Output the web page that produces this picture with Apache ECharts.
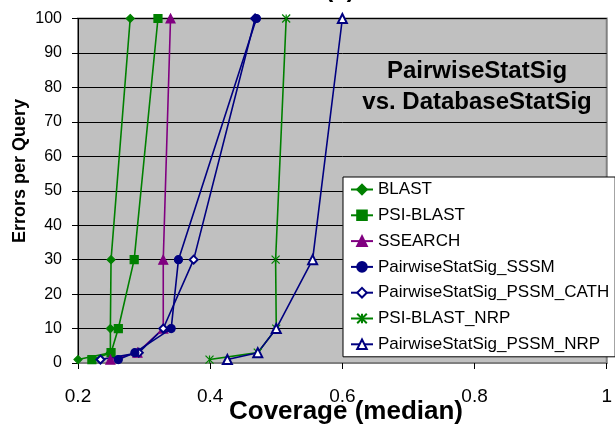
<!DOCTYPE html>
<html>
<head>
<meta charset="utf-8">
<script src="https://cdn.jsdelivr.net/npm/echarts@6/dist/echarts.min.js"></script>
<style>
  html, body { margin: 0; padding: 0; background: #fff; }
  #chart { width: 615px; height: 426px; }
</style>
</head>
<body>
<div id="chart"></div>
<script>
// Error thresholds (errors per query) shared by every method
const errorLevels = [1, 3, 10, 30, 100];

// Median coverage reached by each method at those thresholds
const seriesNames = [
  'BLAST', 'PSI-BLAST', 'SSEARCH', 'PairwiseStatSig_SSSM',
  'PairwiseStatSig_PSSM_CATH', 'PSI-BLAST_NRP', 'PairwiseStatSig_PSSM_NRP'
];
const blast          = [0.200, 0.249, 0.249, 0.250, 0.279];
const psiBlast       = [0.221, 0.250, 0.261, 0.285, 0.321];
const ssearch        = [0.249, 0.290, 0.329, 0.329, 0.340];
const pssSssm        = [0.261, 0.286, 0.341, 0.352, 0.470];
const pssPssmCath    = [0.234, 0.292, 0.329, 0.375, 0.468];
const psiBlastNrp    = [0.399, 0.472, 0.500, 0.499, 0.515];
const pssPssmNrp     = [0.426, 0.472, 0.500, 0.555, 0.600];

const xTicks = [0.2, 0.4, 0.6, 0.8, 1];
const yTicks = [0, 10, 20, 30, 40, 50, 60, 70, 80, 90, 100];

const GREEN = '#008000', PURPLE = '#800080', NAVY = '#000080';
const starPath = 'path://M0,0L10,10M10,0L0,10M5,0L5,10';

function pairs(cov) {
  return cov.map((c, i) => [c, errorLevels[i]]);
}

const styles = [
  { data: blast,       color: GREEN,  symbol: 'diamond',        size: 8, z: 2 },
  { data: psiBlast,    color: GREEN,  symbol: 'rect',           size: 8, z: 2 },
  { data: ssearch,     color: PURPLE, symbol: 'triangle',       size: 9, z: 2 },
  { data: pssSssm,     color: NAVY,   symbol: 'circle',         size: 8, z: 3 },
  { data: pssPssmCath, color: NAVY,   symbol: 'emptyDiamond',   size: 8, z: 2 },
  { data: psiBlastNrp, color: GREEN,  symbol: starPath,         size: 8, z: 2 },
  { data: pssPssmNrp,  color: NAVY,   symbol: 'emptyTriangle',  size: 9, z: 2 }
];

const series = styles.map((s, i) => ({
  name: seriesNames[i],
  type: 'line',
  z: s.z,
  data: pairs(s.data),
  symbol: s.symbol,
  symbolSize: s.size,
  showAllSymbol: true,
  animation: false,
  color: s.color,
  lineStyle: { color: s.color, width: 1.6 },
  itemStyle: s.symbol === starPath
    ? { color: 'rgba(0,0,0,0)', borderColor: s.color, borderWidth: 1.2 }
    : { color: s.color, borderColor: s.color, borderWidth: 1.2 }
}));

const chart = echarts.init(document.getElementById('chart'), null, { renderer: 'canvas' });
chart.setOption({
  animation: false,
  grid: {
    left: 78, right: 1, top: 18.5, bottom: 63,
    show: true, backgroundColor: '#C0C0C0', borderColor: '#808080', borderWidth: 2
  },
  xAxis: {
    type: 'value', min: 0.2, max: 1, interval: 0.2,
    axisLine: { show: true, lineStyle: { color: '#808080', width: 2 } },
    axisTick: { show: true, length: 6, lineStyle: { color: '#000' } },
    splitLine: { show: false },
    axisLabel: {
      margin: 24, fontSize: 19, color: '#000', fontFamily: 'Liberation Sans, Arial',
      formatter: v => { const t = xTicks.find(k => Math.abs(k - v) < 1e-9); return t === undefined ? '' : String(t); }
    }
  },
  yAxis: {
    type: 'value', min: 0, max: 100, interval: 10,
    axisLine: { show: true, lineStyle: { color: '#000', width: 1 } },
    axisTick: { show: true, length: 6, lineStyle: { color: '#000' } },
    splitLine: { show: true, lineStyle: { color: '#000', width: 1 } },
    axisLabel: {
      margin: 16, fontSize: 16, color: '#000', fontFamily: 'Liberation Sans, Arial',
      formatter: v => (yTicks.includes(v) ? String(v) : '')
    }
  },
  legend: {
    orient: 'vertical',
    left: 343, top: 177,
    backgroundColor: '#fff', borderColor: '#000', borderWidth: 1,
    padding: [4, 6, 4, 7],
    itemWidth: 22, itemHeight: 12, itemGap: 8.8,
    textStyle: { fontSize: 17, color: '#000', fontFamily: 'Liberation Sans, Arial', lineHeight: 17 },
    data: seriesNames
  },
  graphic: [
    {
      type: 'text',
      style: { x: 340, y: -10, text: '(c)', font: 'bold 24px "Liberation Sans", Arial', fill: '#000',
               textAlign: 'center', textVerticalAlign: 'middle' }
    },
    {
      type: 'text',
      style: { x: 477, y: 87, text: 'PairwiseStatSig\nvs. DatabaseStatSig',
               font: 'bold 24px "Liberation Sans", Arial', fill: '#000', lineHeight: 31,
               textAlign: 'center', textVerticalAlign: 'middle' }
    },
    {
      type: 'text', rotation: Math.PI / 2, x: 20, y: 171,
      style: { x: 0, y: 0, text: 'Errors per Query', font: 'bold 18px "Liberation Sans", Arial', fill: '#000',
               textAlign: 'center', textVerticalAlign: 'middle' }
    },
    {
      type: 'text',
      style: { x: 346, y: 412, text: 'Coverage (median)', font: 'bold 26px "Liberation Sans", Arial', fill: '#000',
               textAlign: 'center', textVerticalAlign: 'middle' }
    }
  ],
  series: series
});
</script>
</body>
</html>
